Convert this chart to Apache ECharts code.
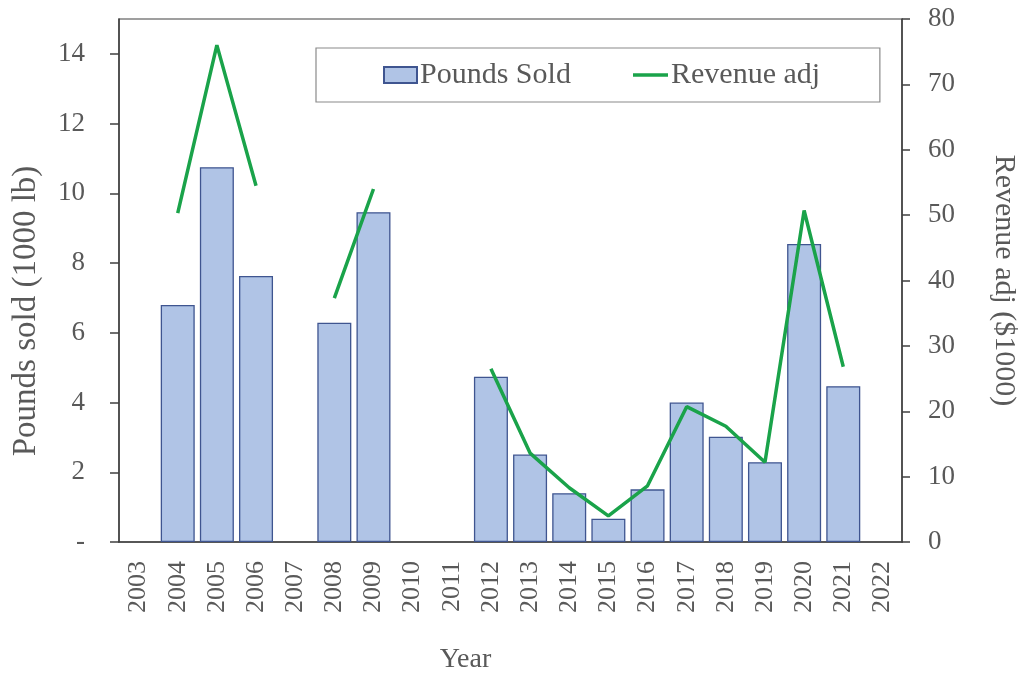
<!DOCTYPE html>
<html>
<head>
<meta charset="utf-8">
<script src="https://cdn.jsdelivr.net/npm/echarts@6/dist/echarts.min.js"></script>
<style>
  html, body { margin: 0; padding: 0; background: #ffffff; }
  #chart { width: 1021px; height: 679px; }
</style>
</head>
<body>
<div id="chart"></div>
<script>
// Yearly landings: pounds sold (bars, left axis) and adjusted revenue (line, right axis)
const years = ['2003','2004','2005','2006','2007','2008','2009','2010','2011','2012',
               '2013','2014','2015','2016','2017','2018','2019','2020','2021','2022'];
const poundsSold = [null, 6.8, 10.75, 7.63, null, 6.29, 9.46, null, null, 4.74,
                    2.51, 1.40, 0.67, 1.51, 4.0, 3.02, 2.29, 8.55, 4.47, null];
const revenueAdj = [null, 50.3, 76.0, 54.5, null, 37.3, 54.0, null, null, 26.5,
                    13.6, 8.3, 4.0, 8.6, 20.7, 17.7, 12.2, 50.7, 26.8, null];
const poundsTicks = [0, 2, 4, 6, 8, 10, 12, 14];
const revenueTicks = [0, 10, 20, 30, 40, 50, 60, 70, 80];

const FONT = '"Liberation Serif", "DejaVu Serif", serif';
const TEXT = '#595959';
const AXIS = '#404040';
const GREEN = '#1aa34a';

const legendText = { fontFamily: FONT, fontSize: 30, color: TEXT, padding: [0, 0, 0, -2] };

const chart = echarts.init(document.getElementById('chart'), null, { renderer: 'canvas' });

chart.setOption({
  animation: false,
  textStyle: { fontFamily: FONT, color: TEXT },
  grid: {
    left: 119, right: 119, top: 19, bottom: 137,
    outerBoundsMode: 'none',
    containLabel: false,
    show: true, borderColor: AXIS, borderWidth: 1.2, backgroundColor: 'transparent'
  },
  legend: [
    {
      // framed legend box; holds the bar entry, the line entry sits inside it
      left: 316, top: 48,
      padding: [12, 309, 12, 67],
      itemWidth: 33, itemHeight: 16,
      borderColor: '#8a8a8a', borderWidth: 1.2,
      textStyle: legendText,
      data: [{ name: 'Pounds Sold', icon: 'rect' }]
    },
    {
      left: 633, top: 60,
      padding: 0,
      itemWidth: 35, itemHeight: 3.5,
      borderWidth: 0,
      textStyle: legendText,
      data: [{ name: 'Revenue adj', icon: 'rect' }]
    }
  ],
  xAxis: {
    type: 'category',
    data: years,
    boundaryGap: true,
    name: 'Year',
    nameLocation: 'middle',
    nameGap: 104,
    nameTextStyle: { fontFamily: FONT, fontSize: 28, color: TEXT, padding: [0, 90, 0, 0] },
    axisLine: { lineStyle: { color: AXIS, width: 1.5 } },
    axisTick: { alignWithLabel: true, length: 8, lineStyle: { color: AXIS, width: 1.5 } },
    axisLabel: { interval: 0, rotate: 90, margin: 19, fontFamily: FONT, fontSize: 26, color: TEXT },
    splitLine: { show: false }
  },
  yAxis: [
    {
      type: 'value',
      min: 0, max: 15, interval: 2,
      position: 'left',
      name: 'Pounds sold (1000 lb)',
      nameLocation: 'middle',
      nameRotate: 90,
      nameGap: 76,
      nameTextStyle: { fontFamily: FONT, fontSize: 33, color: TEXT, padding: [0, 61, 0, 0] },
      axisLine: { show: true, lineStyle: { color: AXIS, width: 1.5 } },
      axisTick: { show: true, length: 9, customValues: poundsTicks, lineStyle: { color: AXIS, width: 1.5 } },
      axisLabel: {
        customValues: poundsTicks,
        margin: 34, fontFamily: FONT, fontSize: 27, color: TEXT,
        formatter: v => (v === 0 ? '-' : String(v))
      },
      splitLine: { show: false }
    },
    {
      type: 'value',
      min: 0, max: 80, interval: 10,
      position: 'right',
      name: 'Revenue adj ($1000)',
      nameLocation: 'middle',
      nameRotate: -90,
      nameGap: 87,
      nameTextStyle: { fontFamily: FONT, fontSize: 30, color: TEXT },
      axisLine: { show: true, lineStyle: { color: AXIS, width: 1.5 } },
      axisTick: { show: true, length: 8, customValues: revenueTicks, lineStyle: { color: AXIS, width: 1.5 } },
      axisLabel: { customValues: revenueTicks, margin: 26, fontFamily: FONT, fontSize: 27, color: TEXT },
      splitLine: { show: false }
    }
  ],
  series: [
    {
      name: 'Pounds Sold',
      type: 'bar',
      yAxisIndex: 0,
      data: poundsSold,
      barWidth: 34,
      itemStyle: { color: '#b0c4e6', borderColor: '#3f5590', borderWidth: 1.3 }
    },
    {
      name: 'Revenue adj',
      type: 'line',
      yAxisIndex: 1,
      data: revenueAdj,
      connectNulls: false,
      symbol: 'none',
      lineStyle: { color: GREEN, width: 3.5 },
      itemStyle: { color: GREEN }
    }
  ]
});
</script>
</body>
</html>
